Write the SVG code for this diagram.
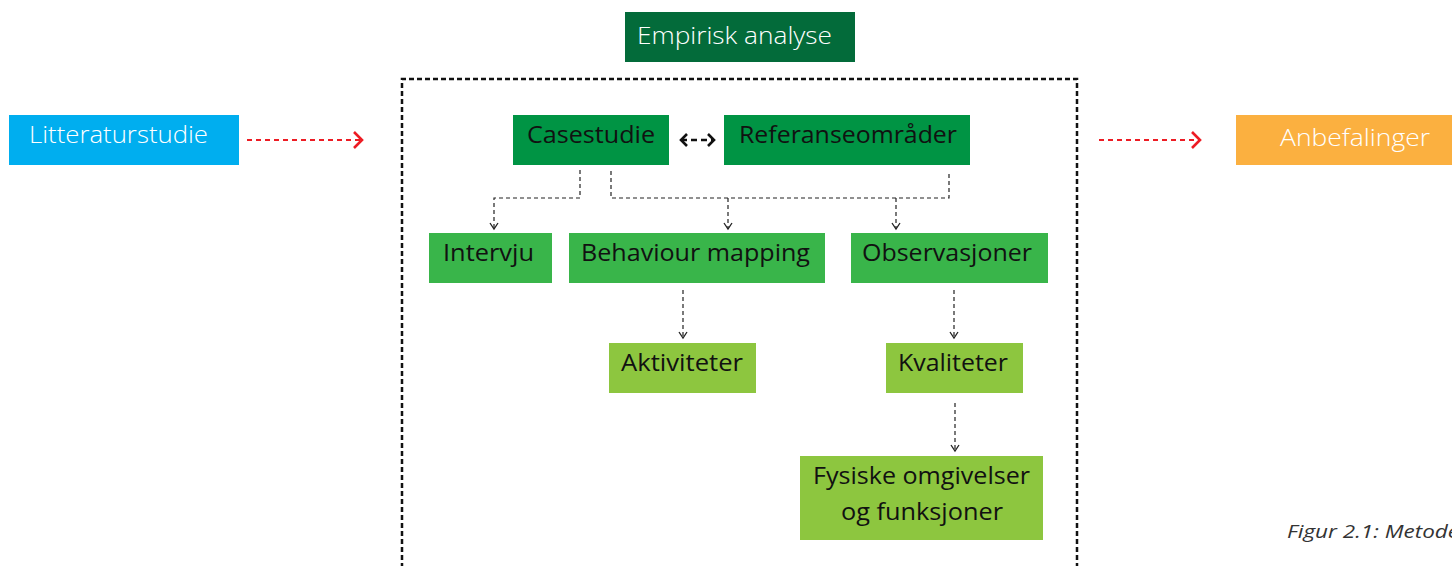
<svg xmlns="http://www.w3.org/2000/svg" width="1452" height="566" viewBox="0 0 1452 566">
<style>
text{font-family:"Open Sans","Liberation Sans",Arial,sans-serif;font-size:24px}
.w{fill:#ffffff;font-weight:300}
.k{fill:#111111}
.conn{fill:none;stroke:#222;stroke-width:1.2;stroke-dasharray:4 3}
.red{fill:none;stroke:#ED1C24;stroke-width:2.2;stroke-dasharray:5 4}
.cap{font-style:italic;font-size:18px;fill:#333333;font-weight:400}
</style>
<defs>
<marker id="ah" viewBox="0 0 10 10" refX="8" refY="5" markerWidth="10" markerHeight="10" markerUnits="userSpaceOnUse" orient="auto"><path d="M2,1 L8,5 L2,9" fill="none" stroke="#222" stroke-width="1.3"/></marker>
<marker id="rh" viewBox="0 0 12 20" refX="10" refY="10" markerWidth="12" markerHeight="20" markerUnits="userSpaceOnUse" orient="auto"><path d="M2,2 L10,10 L2,18" fill="none" stroke="#ED1C24" stroke-width="2.6"/></marker>
<marker id="bh" viewBox="0 0 10 16" refX="8" refY="8" markerWidth="10" markerHeight="16" markerUnits="userSpaceOnUse" orient="auto-start-reverse"><path d="M2,2 L8,8 L2,14" fill="none" stroke="#111" stroke-width="2.6"/></marker>
</defs>

<path d="M402,600 L402,79 L1077,79 L1077,600" fill="none" stroke="#111" stroke-width="2.5" stroke-dasharray="5 3"/>

<g id="connectors">
<line class="red" x1="247" y1="140" x2="362" y2="140" marker-end="url(#rh)"/>
<line class="red" x1="1099" y1="140" x2="1200" y2="140" marker-end="url(#rh)"/>
<line x1="681" y1="140" x2="714" y2="140" fill="none" stroke="#111" stroke-width="2.4" stroke-dasharray="6 4" marker-start="url(#bh)" marker-end="url(#bh)"/>
<path class="conn" d="M580,170 L580,198 L494,198 L494,229" marker-end="url(#ah)"/>
<path class="conn" d="M611,171 L611,198 L949,198 L949,173"/>
<line class="conn" x1="728" y1="198" x2="728" y2="229" marker-end="url(#ah)"/>
<line class="conn" x1="896" y1="198" x2="896" y2="229" marker-end="url(#ah)"/>
<line class="conn" x1="683" y1="290" x2="683" y2="338" marker-end="url(#ah)"/>
<line class="conn" x1="954" y1="290" x2="954" y2="338" marker-end="url(#ah)"/>
<line class="conn" x1="955" y1="403" x2="955" y2="451" marker-end="url(#ah)"/>
</g>

<g id="litteraturstudie"><rect x="9" y="115" width="230" height="50" fill="#00AEEF"/><text class="w" x="29" y="143" textLength="179" lengthAdjust="spacingAndGlyphs">Litteraturstudie</text></g>
<g id="empirisk"><rect x="625" y="12" width="230" height="50" fill="#036B3A"/><text class="w" x="637" y="44" textLength="195" lengthAdjust="spacingAndGlyphs">Empirisk analyse</text></g>
<g id="anbefalinger"><rect x="1236" y="115" width="216" height="50" fill="#FBB040"/><text class="w" x="1280" y="146" textLength="150" lengthAdjust="spacingAndGlyphs">Anbefalinger</text></g>
<g id="casestudie"><rect x="513" y="115" width="156" height="50" fill="#009444"/><text class="k" x="527" y="143" textLength="128" lengthAdjust="spacingAndGlyphs">Casestudie</text></g>
<g id="referanse"><rect x="724" y="115" width="246" height="50" fill="#009444"/><text class="k" x="739" y="143" textLength="218" lengthAdjust="spacingAndGlyphs">Referanseområder</text></g>
<g id="intervju"><rect x="429" y="233" width="123" height="50" fill="#39B54A"/><text class="k" x="443" y="261" textLength="91" lengthAdjust="spacingAndGlyphs">Intervju</text></g>
<g id="behaviour"><rect x="569" y="233" width="256" height="50" fill="#39B54A"/><text class="k" x="581" y="261" textLength="229" lengthAdjust="spacingAndGlyphs">Behaviour mapping</text></g>
<g id="observasjoner"><rect x="851" y="233" width="197" height="50" fill="#39B54A"/><text class="k" x="862" y="261" textLength="170" lengthAdjust="spacingAndGlyphs">Observasjoner</text></g>
<g id="aktiviteter"><rect x="609" y="343" width="147" height="50" fill="#8DC63F"/><text class="k" x="621" y="371" textLength="122" lengthAdjust="spacingAndGlyphs">Aktiviteter</text></g>
<g id="kvaliteter"><rect x="886" y="343" width="137" height="50" fill="#8DC63F"/><text class="k" x="898" y="371" textLength="110" lengthAdjust="spacingAndGlyphs">Kvaliteter</text></g>
<g id="fysiske"><rect x="800" y="456" width="243" height="84" fill="#8DC63F"/><text class="k" x="813" y="484" textLength="217" lengthAdjust="spacingAndGlyphs">Fysiske omgivelser</text><text class="k" x="841" y="520" textLength="162" lengthAdjust="spacingAndGlyphs">og funksjoner</text></g>

<text class="cap" x="1287" y="538" textLength="172" lengthAdjust="spacingAndGlyphs">Figur 2.1: Metode</text>
</svg>
